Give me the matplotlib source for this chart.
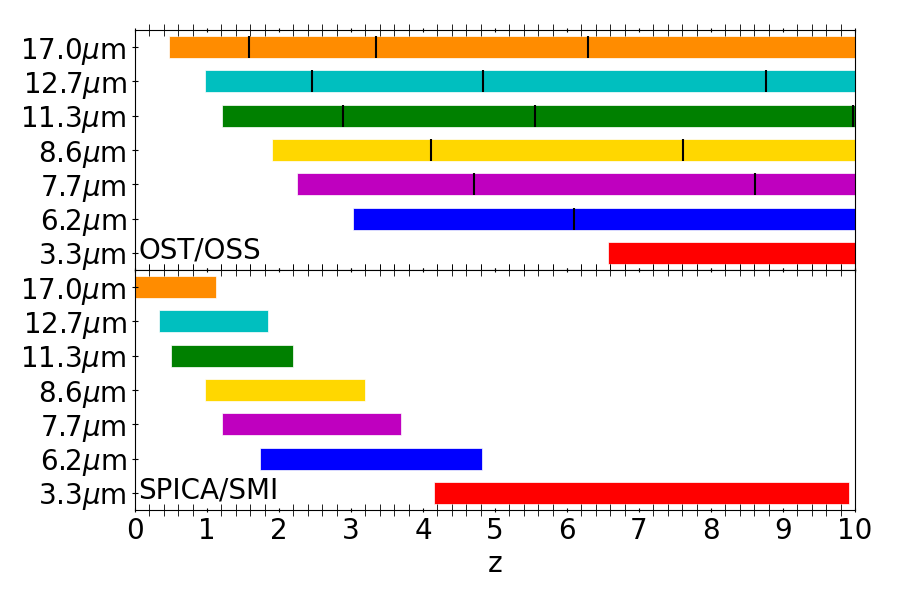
import matplotlib
matplotlib.use("Agg")
import matplotlib.pyplot as plt
from matplotlib.ticker import MultipleLocator

labels = [r'3.3$\mu$m', r'6.2$\mu$m', r'7.7$\mu$m', r'8.6$\mu$m',
          r'11.3$\mu$m', r'12.7$\mu$m', r'17.0$\mu$m']
colors = ['red', 'blue', 'm', 'gold', 'green', 'c', 'darkorange']

# OST/OSS ranges (start, end) and marker positions
ost_start = [6.57, 3.03, 2.25, 1.90, 1.21, 0.97, 0.47]
ost_end = [10.0, 10.0, 10.0, 10.0, 10.0, 10.0, 10.0]
ost_marks = [[], [6.10], [4.71, 8.61], [4.11, 7.61],
             [2.89, 5.56, 9.97], [2.46, 4.83, 8.76], [1.58, 3.35, 6.29]]

# SPICA/SMI ranges
smi_start = [4.15, 1.74, 1.21, 0.97, 0.50, 0.33, 0.0]
smi_end = [9.92, 4.82, 3.69, 3.19, 2.19, 1.85, 1.125]

fs = 20
fig = plt.figure(figsize=(9, 6), dpi=100)
ax1 = fig.add_axes([0.15, 0.55, 0.80, 0.40])
ax2 = fig.add_axes([0.15, 0.15, 0.80, 0.40], sharex=ax1)

h = 0.64
ypos = list(range(len(labels)))

for i in ypos:
    ax1.barh(i, ost_end[i] - ost_start[i], left=ost_start[i], height=h,
             color=colors[i], edgecolor='white', linewidth=0.5)
    for m in ost_marks[i]:
        ax1.vlines(m, i - h / 2, i + h / 2, colors='black', linewidth=1.5)
    ax2.barh(i, smi_end[i] - smi_start[i], left=smi_start[i], height=h,
             color=colors[i], edgecolor='white', linewidth=0.5)

for ax, name in [(ax1, 'OST/OSS'), (ax2, 'SPICA/SMI')]:
    ax.set_ylim(-0.5, 6.5)
    ax.set_yticks(ypos)
    ax.set_yticklabels(labels, fontsize=fs)
    ax.text(0.05, -0.33, name, fontsize=fs, va='bottom', ha='left')
    ax.xaxis.set_major_locator(MultipleLocator(1))
    ax.xaxis.set_minor_locator(MultipleLocator(0.2))
    ax.tick_params(axis='x', which='major', direction='inout', length=3,
                   top=True, bottom=True)
    ax.tick_params(axis='x', which='minor', direction='inout', length=8,
                   top=True, bottom=True)
    ax.tick_params(axis='y', which='major', direction='inout', length=5,
                   left=True, right=False)

ax1.set_xlim(0, 10)
plt.setp(ax1.get_xticklabels(), visible=False)
ax2.set_xticks(range(0, 11))
ax2.set_xticklabels([str(v) for v in range(0, 11)], fontsize=fs)
ax2.set_xlabel('z', fontsize=fs)

fig.savefig('out.png', dpi=100)
